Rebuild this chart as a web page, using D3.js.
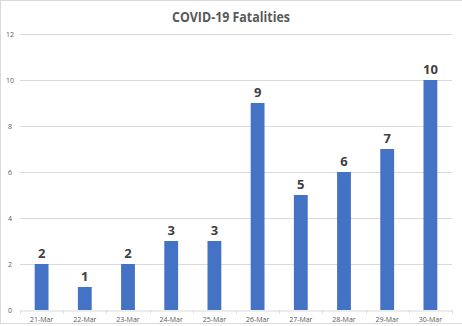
<!DOCTYPE html>
<html>
<head>
<meta charset="utf-8">
<script src="https://cdn.jsdelivr.net/npm/d3@7"></script>
<style>
  body { margin: 0; background: #fff; }
  svg { display: block; font-family: "Open Sans", "Liberation Sans", sans-serif; }
</style>
</head>
<body>
<svg width="462" height="326"></svg>
<script>
var svg = d3.select("svg"),
    width = +svg.attr("width"),
    height = +svg.attr("height");

var days = ["21-Mar", "22-Mar", "23-Mar", "24-Mar", "25-Mar", "26-Mar", "27-Mar", "28-Mar", "29-Mar", "30-Mar"];
var deaths = [2, 1, 2, 3, 3, 9, 5, 6, 7, 10];
var yTicks = [0, 2, 4, 6, 8, 10, 12];

var margin = {top: 34, right: 10, bottom: 16, left: 20};

// chart frame
svg.append("rect")
    .attr("x", 0.5).attr("y", 0.5)
    .attr("width", width + 10).attr("height", height - 3)
    .attr("fill", "none")
    .attr("stroke", "#d9d9d9");

var x = d3.scaleBand()
    .domain(days)
    .range([margin.left, width - margin.right])
    .paddingInner(0.68)
    .paddingOuter(0.34);

var y = d3.scaleLinear()
    .domain([0, 12])
    .range([height - margin.bottom, margin.top]);

svg.append("text")
    .attr("x", 231)
    .attr("y", 22)
    .attr("text-anchor", "middle")
    .attr("textLength", 118)
    .attr("lengthAdjust", "spacingAndGlyphs")
    .style("font-size", "14px")
    .style("font-weight", "bold")
    .style("fill", "#595959")
    .text("COVID-19 Fatalities");

// gridlines
svg.append("g")
    .selectAll("line")
    .data(yTicks.filter(d => d > 0))
    .enter().append("line")
    .attr("x1", margin.left)
    .attr("x2", width - margin.right)
    .attr("y1", d => Math.round(y(d)) + 0.5)
    .attr("y2", d => Math.round(y(d)) + 0.5)
    .attr("stroke", "#d9d9d9");

// y labels
svg.append("g")
    .selectAll("text")
    .data(yTicks)
    .enter().append("text")
    .attr("x", 10)
    .attr("y", d => y(d) + 2.5)
    .attr("text-anchor", "middle")
    .style("font-size", "7px")
    .style("fill", "#595959")
    .text(d => d);

// bars
svg.append("g")
    .selectAll("rect")
    .data(deaths)
    .enter().append("rect")
    .attr("x", (d, i) => x(days[i]))
    .attr("y", d => y(d))
    .attr("width", x.bandwidth())
    .attr("height", d => y(0) - y(d))
    .attr("fill", "#4472c4");

// value labels
svg.append("g")
    .selectAll("text")
    .data(deaths)
    .enter().append("text")
    .attr("x", (d, i) => x(days[i]) + x.bandwidth() / 2)
    .attr("y", d => y(d) - 6)
    .attr("text-anchor", "middle")
    .style("font-size", "13px")
    .style("font-weight", "bold")
    .style("fill", "#404040")
    .text(d => d);

// x axis
var xAxis = d3.axisBottom(x).tickSize(0).tickPadding(7);
var gx = svg.append("g")
    .attr("transform", "translate(0," + (Math.round(y(0)) + 0.5) + ")")
    .call(xAxis);
gx.select(".domain").attr("stroke", "#d9d9d9");
gx.selectAll("text")
    .style("font-size", "7px")
    .style("fill", "#595959")
    .style("font-family", "'Open Sans', sans-serif");

// tick marks between categories
var step = x.step();
gx.append("g")
    .selectAll("line")
    .data(d3.range(days.length + 1))
    .enter().append("line")
    .attr("x1", i => Math.round(margin.left + i * step) + 0.5)
    .attr("x2", i => Math.round(margin.left + i * step) + 0.5)
    .attr("y1", 0)
    .attr("y2", 3)
    .attr("stroke", "#d9d9d9");
</script>
</body>
</html>
